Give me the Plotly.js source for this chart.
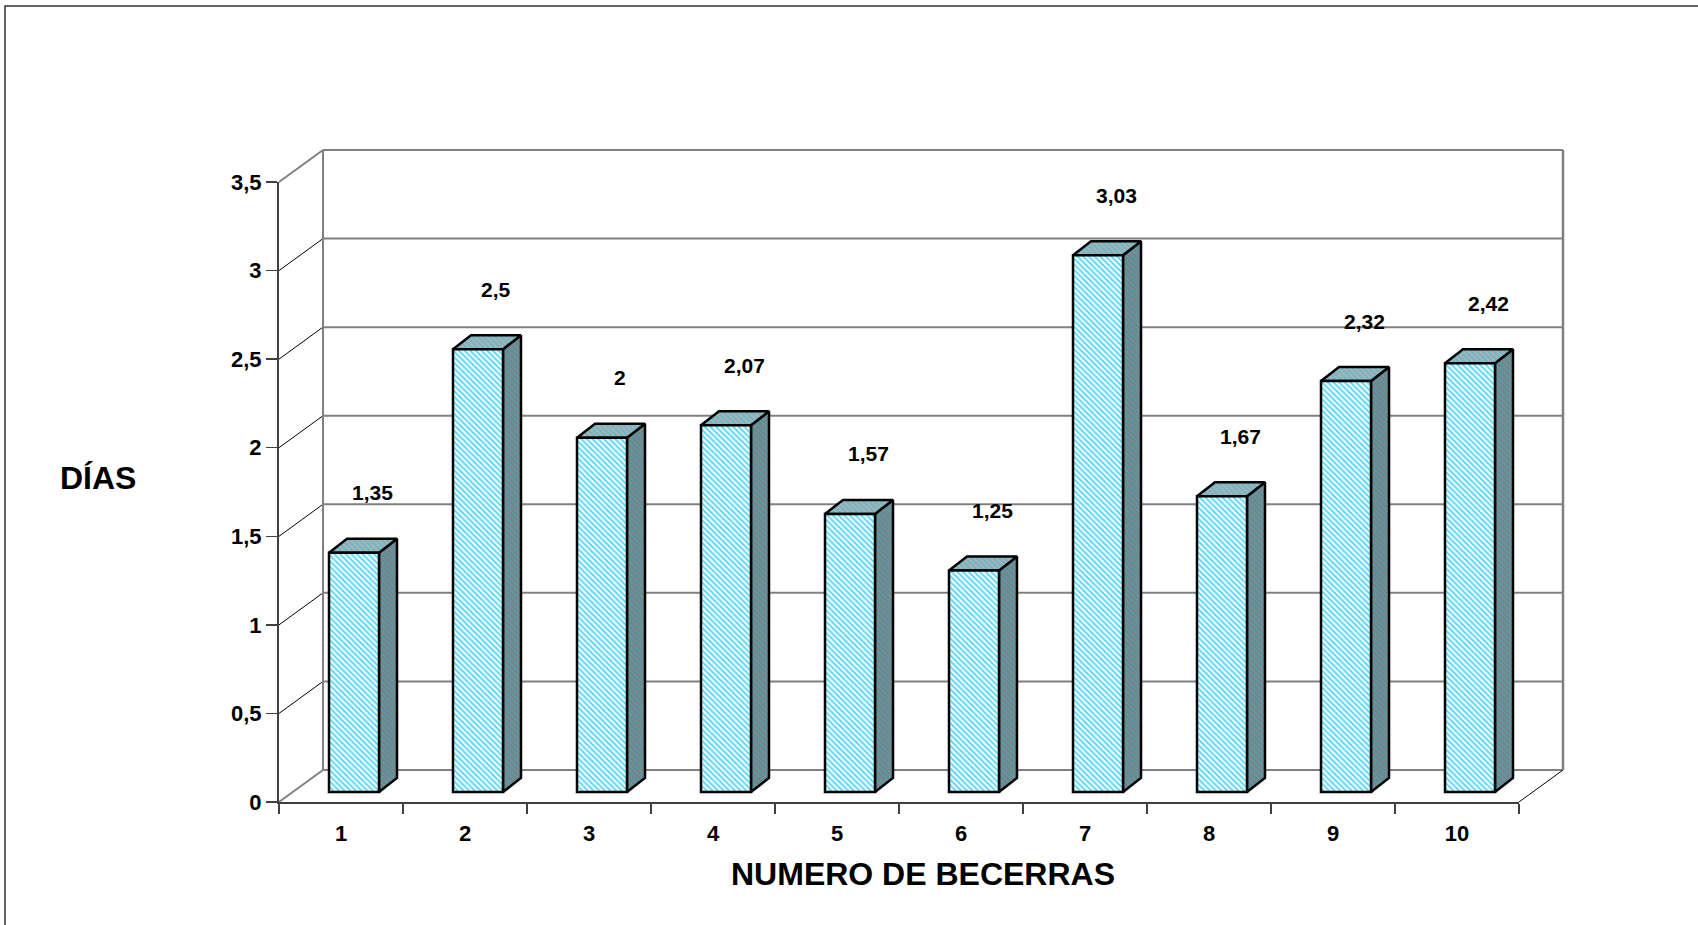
<!DOCTYPE html>
<html>
<head>
<meta charset="utf-8">
<script src="https://cdn.plot.ly/plotly-3.0.1.min.js"></script>
<style>html,body{margin:0;padding:0;background:#fff;}#chart{width:1698px;height:925px;}</style>
</head>
<body>
<div id="chart"></div>
<script>
// ---- data ----
const categories = ['1','2','3','4','5','6','7','8','9','10'];
const values = [1.35, 2.5, 2, 2.07, 1.57, 1.25, 3.03, 1.67, 2.32, 2.42];
const yTickVals = [0, 0.5, 1, 1.5, 2, 2.5, 3, 3.5];
const yTickText = ['0', '0,5', '1', '1,5', '2', '2,5', '3', '3,5'];
const xTitle = 'NUMERO DE BECERRAS';
const yTitle = 'DÍAS';

// ---- layout geometry (pixels) ----
const W = 1698, H = 925;
const AL = 250, AR = 1598, AT = 120, AB = 825;      // wall plotting area
const FX0 = 279, FX1 = 1519, FY0 = 802, FY1 = 182;  // front axes box
const DXp = 44, DYp = 32;     // depth of walls
const BXp = 13, BYp = 10;     // bar plane offset
const BWp = 50;               // bar width
const BDXp = 18, BDYp = 14;   // bar depth
const nCat = categories.length;
const yMax = yTickVals[yTickVals.length - 1];
const ux = (FX1 - FX0) / nCat;
const uy = (FY0 - FY1) / yMax;
const xd = px => 0.5 + (px - FX0) / ux;
const yd = py => (FY0 - py) / uy;
const px2p = px => (px - AL) / (AR - AL);
const py2p = py => (AB - py) / (AB - AT);
const DX = DXp / ux, DY = DYp / uy;
const BX = BXp / ux, BY = BYp / uy;
const BW = BWp / ux;
const BDX = BDXp / ux, BDY = BDYp / uy;

const FONT = 'Liberation Sans, Arial, Helvetica, sans-serif';
const GRAY = '#808080';

// ---- wall shapes ----
const shapes = [];
const xL = 0.5, xR = nCat + 0.5;
yTickVals.forEach(v => {
  shapes.push({type:'line', layer:'below', xref:'x', yref:'y',
    x0:xL + DX, x1:xR + DX, y0:v + DY, y1:v + DY,
    line:{color:GRAY, width:2}});
  const edge = (v === 0 || v === yMax);
  shapes.push({type:'line', layer:'below', xref:'x', yref:'y',
    x0:xL, x1:xL + DX, y0:v, y1:v + DY,
    line:{color: edge ? GRAY : '#000000', width: edge ? 2 : 1}});
});
shapes.push({type:'line', layer:'below', xref:'x', yref:'y',
  x0:xL + DX, x1:xL + DX, y0:DY, y1:yMax + DY, line:{color:GRAY, width:2}});
shapes.push({type:'line', layer:'below', xref:'x', yref:'y',
  x0:xR + DX, x1:xR + DX, y0:DY, y1:yMax + DY, line:{color:GRAY, width:2.5}});
shapes.push({type:'line', layer:'below', xref:'x', yref:'y',
  x0:xR, x1:xR + DX, y0:0, y1:DY, line:{color:'#000000', width:1}});
// outer chart border (left/top visible)
shapes.push({type:'rect', layer:'above', xref:'paper', yref:'paper',
  x0:px2p(5), x1:px2p(1760), y0:py2p(6), y1:py2p(1000),
  line:{color:'#333333', width:1.5}, fillcolor:'rgba(0,0,0,0)'});

// ---- traces ----
const xs = categories.map((c, i) => i + 1);
const traces = [];
values.forEach((v, i) => {
  const x = xs[i];
  const xl = x + BX - BW / 2, xr = x + BX + BW / 2;
  const yb = BY, yt = v + BY;
  traces.push({type:'scatter', mode:'lines', xaxis:'x', yaxis:'y', hoverinfo:'skip', showlegend:false,
    x:[xr, xr + BDX, xr + BDX, xr, xr], y:[yb, yb + BDY, yt + BDY, yt, yb],
    fill:'toself', fillcolor:'#7d8486',
    fillpattern:{shape:'\\', fgcolor:'#3fa6bd', bgcolor:'#7e8283', size:4, solidity:0.3},
    line:{color:'#000000', width:2.5}});
  traces.push({type:'scatter', mode:'lines', xaxis:'x', yaxis:'y', hoverinfo:'skip', showlegend:false,
    x:[xl, xl + BDX, xr + BDX, xr, xl], y:[yt, yt + BDY, yt + BDY, yt, yt],
    fill:'toself', fillcolor:'#a2b6ba',
    fillpattern:{shape:'\\', fgcolor:'#4fbbd2', bgcolor:'#a6b3b6', size:4, solidity:0.3},
    line:{color:'#000000', width:2.5}});
});
// front faces of the bars, on the front axes
traces.push({
  type:'bar', x:xs, y:values, base:BY, offset:BX - BW / 2, width:BW,
  xaxis:'x2', yaxis:'y2', hoverinfo:'skip', showlegend:false,
  marker:{color:'#e2f9ff', line:{color:'#000000', width:2.5},
    pattern:{shape:'\\', fgcolor:'#4fd3f3', bgcolor:'#eefcff', size:4, solidity:0.4}}
});

// ---- data labels ----
const annotations = values.map((v, i) => ({
  xref:'x', yref:'y', x:xs[i], y:v, text:String(v).replace('.', ','),
  showarrow:false, xshift:31, yshift:70, xanchor:'center', yanchor:'middle',
  font:{family:FONT, size:21, color:'#000000', weight:700}
}));
annotations.push({xref:'paper', yref:'paper', x:px2p(98), y:py2p(478), text:yTitle,
  showarrow:false, xanchor:'center', yanchor:'middle',
  font:{family:FONT, size:32, color:'#000000', weight:700}});
annotations.push({xref:'paper', yref:'paper', x:px2p(923), y:py2p(874), text:xTitle,
  showarrow:false, xanchor:'center', yanchor:'middle',
  font:{family:FONT, size:32, color:'#000000', weight:700}});

const layout = {
  width:W, height:H, autosize:false,
  margin:{l:AL, r:W - AR, t:AT, b:H - AB, pad:0},
  paper_bgcolor:'#ffffff', plot_bgcolor:'rgba(0,0,0,0)',
  showlegend:false, barmode:'overlay',
  xaxis:{domain:[0, 1], range:[xd(AL), xd(AR)], visible:false, fixedrange:true, anchor:'y'},
  yaxis:{domain:[0, 1], range:[yd(AB), yd(AT)], visible:false, fixedrange:true, anchor:'x'},
  xaxis2:{domain:[px2p(FX0), px2p(FX1)], range:[0.5, nCat + 0.5], anchor:'y2',
    showline:true, linecolor:'#404040', linewidth:2, showgrid:false, zeroline:false,
    tickvals:xs, ticktext:categories, ticks:'', ticklabelstandoff:11,
    tickfont:{family:FONT, size:22, color:'#000000', weight:700},
    minor:{tick0:0.5, dtick:1, ticks:'outside', ticklen:10, tickcolor:'#404040', tickwidth:1.5, showgrid:false}},
  yaxis2:{domain:[py2p(FY0), py2p(FY1)], range:[0, yMax], anchor:'x2',
    showline:true, linecolor:'#404040', linewidth:2, showgrid:false, zeroline:false,
    tickvals:yTickVals, ticktext:yTickText, ticks:'outside', ticklen:11, tickcolor:'#404040', tickwidth:1.5,
    tickfont:{family:FONT, size:22, color:'#000000', weight:700}},
  shapes:shapes,
  annotations:annotations
};

Plotly.newPlot('chart', traces, layout, {staticPlot:true, displayModeBar:false});
</script>
</body>
</html>
